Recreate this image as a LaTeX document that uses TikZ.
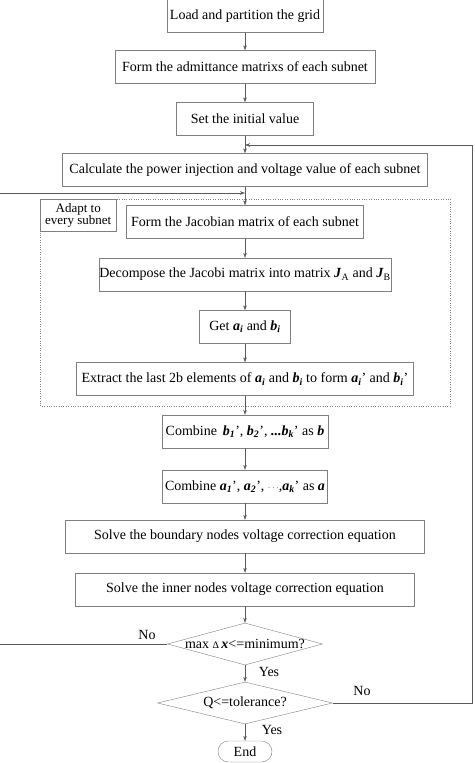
\documentclass[tikz,border=0pt]{standalone}
\usepackage{fontspec}
\setmainfont{Liberation Serif}
\usetikzlibrary{shapes.geometric,arrows.meta}
\newcommand{\bivar}[1]{\textbf{\textit{#1}}}
\begin{document}
\begin{tikzpicture}
        [x=1pt,y=-1pt,
        font=\fontsize{14}{13}\selectfont,
        box/.style={rectangle,draw=black!50,minimum height=33,minimum width=#1,inner sep=0pt},
        dec/.style={diamond,draw=black!50,minimum width=#1,minimum height=42,inner sep=0pt},
        line/.style={draw=black!65,-{Stealth[length=5pt,width=3.5pt]}}]
        \useasboundingbox (0,0) rectangle (474,763);
        \node[box=156] (load) at (245,16) {Load and partition the grid};
        \node[box=260] (adm) at (245,67) {Form the admittance matrixs of each subnet};
        \node[box=137] (init) at (245,119) {Set the initial value};
        \node[box=365] (calc) at (245,170) {Calculate the power injection and voltage value of each subnet};
        \node[box=237] (jac) at (245,222) {Form the Jacobian matrix of each subnet};
        \node[box=291] (decomp) at (245,274.5) {Decompose the Jacobi matrix into matrix \bivar{J}\textsubscript{A} and \bivar{J}\textsubscript{B}};
        \node[box=91] (get) at (245,327) {Get \bivar{a}\textsubscript{\bivar{i}} and \bivar{b}\textsubscript{\bivar{i}}};
        \node[box=337] (extr) at (245,379) {Extract the last 2b elements of \bivar{a}\textsubscript{\bivar{i}} and \bivar{b}\textsubscript{\bivar{i}} to form \bivar{a}\textsubscript{\bivar{i}}' and \bivar{b}\textsubscript{\bivar{i}}'};
        \node[box=166] (combb) at (245,431.5) {Combine\, \bivar{b}\textsubscript{\bivar{1}}', \bivar{b}\textsubscript{\bivar{2}}', \bivar{...b}\textsubscript{\bivar{k}}' as \bivar{b}};
        \node[box=165] (comba) at (245,486.5) {Combine \bivar{a}\textsubscript{\bivar{1}}', \bivar{a}\textsubscript{\bivar{2}}', {\small$\cdots$},\bivar{a}\textsubscript{\bivar{k}}' as \bivar{a}};
        \node[box=359] (bound) at (245,536.5) {Solve the boundary nodes voltage correction equation};
        \node[box=339] (inner) at (245,589.5) {Solve the inner nodes voltage correction equation};
        \node[dec=155] (dmin) at (245,644) {\makebox[0pt]{max {\fontsize{10}{10}\selectfont Δ}\,\bivar{x}<=minimum?}};
        \node[dec=175] (dtol) at (245,703) {\makebox[0pt]{Q<=tolerance?}};
        \node[draw=black!50,rounded corners=10.5pt,minimum width=54,minimum height=21,inner sep=0pt] (end) at (245,751.5) {End};
        
        % every subnet frame
        \draw[draw=black!50,dotted] (40,199) rectangle (450,406);
        \node[draw=black!50,minimum width=76,minimum height=32,inner sep=0pt,align=center,anchor=north west,
        font=\fontsize{13}{12.5}\selectfont] (adapt) at (40,199) {Adapt to\\every subnet};
        
        \coordinate (jr) at (245,145);
        \coordinate (jl) at (245,193);
        \coordinate (rr) at (472,145);
        \coordinate (ll) at (-3,193);
        
        \draw[line] (load) -- (adm);
        \draw[line] (adm) -- (init);
        \draw[line] (init) -- (calc);
        \draw[line] (calc) -- (jac);
        \draw[line] (jac) -- (decomp);
        \draw[line] (decomp) -- (get);
        \draw[line] (get) -- (extr);
        \draw[line] (extr) -- (combb);
        \draw[line] (combb) -- (comba);
        \draw[line] (comba) -- (bound);
        \draw[line] (bound) -- (inner);
        \draw[line] (inner) -- (dmin);
        \draw[line] (dmin) -- (dtol);
        \draw[line] (dtol) -- (end);
        \draw[line] (dmin.west) -| (ll) -- (jl);
        \draw[line] (dtol.east) -| (rr) -- (jr);
        
        \node (no1) at (147,635) {No};
        \node (yes1) at (269,672) {Yes};
        \node (no2) at (362,691) {No};
        \node (yes2) at (272,730) {Yes};
    \end{tikzpicture}
\end{document}
